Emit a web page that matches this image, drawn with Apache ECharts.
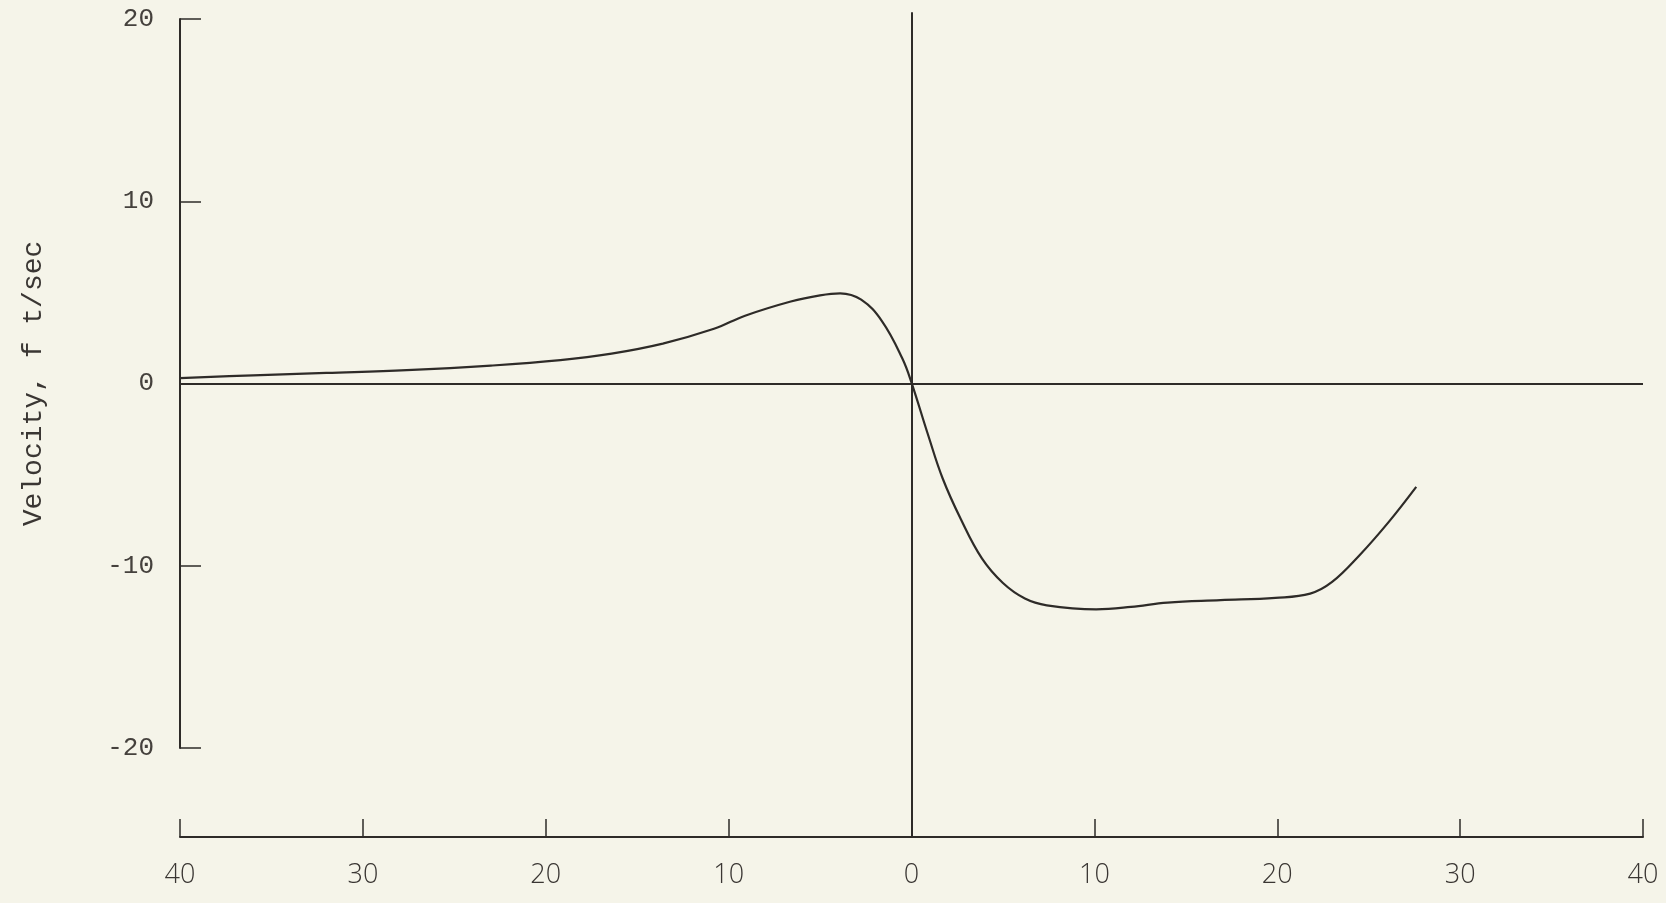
<!DOCTYPE html>
<html>
<head>
<meta charset="utf-8">
<script src="https://cdn.jsdelivr.net/npm/echarts@6/dist/echarts.min.js"></script>
<style>
html,body{margin:0;padding:0;background:#f5f4e9;}
#chart{width:1666px;height:903px;}
</style>
</head>
<body>
<div id="chart"></div>
<script>
// Time axis (seconds before/after 0) and velocity (ft/sec)
var timeValues = [-40, -36, -32, -27.6, -23, -19.2, -16.4, -13.6, -10.8, -9.1, -6.6, -5.0, -3.9, -2.75, -1.6, -0.5, 0, 0.9, 1.7, 2.7, 3.85, 5.0, 6.2, 7.4, 10.1, 12.0, 14.0, 16.9, 19.9, 21.8, 23.0, 24.5, 26.1, 27.6];
var velocityValues = [0.3, 0.45, 0.58, 0.73, 0.98, 1.28, 1.64, 2.19, 3.0, 3.72, 4.5, 4.84, 4.95, 4.6, 3.4, 1.37, 0.05, -2.8, -5.2, -7.45, -9.6, -10.95, -11.8, -12.17, -12.39, -12.26, -12.02, -11.89, -11.76, -11.53, -10.89, -9.42, -7.59, -5.67];
var xTickRange = [-40, 40];
var yTickRange = [-20, 20];
var yAxisTitle = 'Velocity, f t/sec';

var ink = '#2e2b28';
var curve = timeValues.map(function (t, i) { return [t, velocityValues[i]]; });

var chart = echarts.init(document.getElementById('chart'));
chart.setOption({
  backgroundColor: '#f5f4e9',
  animation: false,
  grid: [
    { left: 180, right: 23, top: 19, bottom: 155 },
    { left: 180, right: 23, top: 13, bottom: 66 }
  ],
  xAxis: [
    {
      gridIndex: 0, type: 'value', min: xTickRange[0], max: xTickRange[1], interval: 10,
      offset: 89,
      axisLine: { show: true, onZero: false, lineStyle: { color: ink, width: 2 } },
      axisTick: { show: true, inside: true, length: 18, lineStyle: { color: ink, width: 1.5 } },
      axisLabel: {
        margin: 25, color: '#3a3633', fontFamily: 'Open Sans', fontWeight: 300, fontSize: 27,
        formatter: function (v) { return String(Math.abs(v)); }
      },
      splitLine: { show: false }
    },
    {
      gridIndex: 1, type: 'value', min: xTickRange[0], max: xTickRange[1], show: false,
      axisLine: { show: false }, splitLine: { show: false }
    }
  ],
  yAxis: [
    {
      gridIndex: 0, type: 'value', min: yTickRange[0], max: yTickRange[1], interval: 10,
      name: yAxisTitle, nameLocation: 'middle', nameGap: 132, nameRotate: 90,
      nameTextStyle: { fontFamily: 'Liberation Mono', fontSize: 28, color: '#3a3633' },
      axisLine: { show: true, onZero: false, lineStyle: { color: ink, width: 2 } },
      axisTick: { show: true, inside: true, length: 21, lineStyle: { color: ink, width: 1.5 } },
      axisLabel: { margin: 26, color: '#45413d', fontFamily: 'Liberation Mono', fontSize: 26 },
      splitLine: { show: false }
    },
    {
      gridIndex: 1, type: 'value', min: 0, max: 1,
      axisLine: { show: true, onZero: true, lineStyle: { color: ink, width: 2 } },
      axisTick: { show: false }, axisLabel: { show: false }, splitLine: { show: false }
    }
  ],
  series: [
    {
      type: 'line', xAxisIndex: 0, yAxisIndex: 0,
      data: curve, smooth: 0.4, showSymbol: false,
      lineStyle: { color: ink, width: 2.2 },
      markLine: {
        silent: true, symbol: 'none', label: { show: false },
        lineStyle: { color: ink, width: 2, type: 'solid' },
        data: [{ yAxis: 0 }]
      }
    }
  ]
});
</script>
</body>
</html>
